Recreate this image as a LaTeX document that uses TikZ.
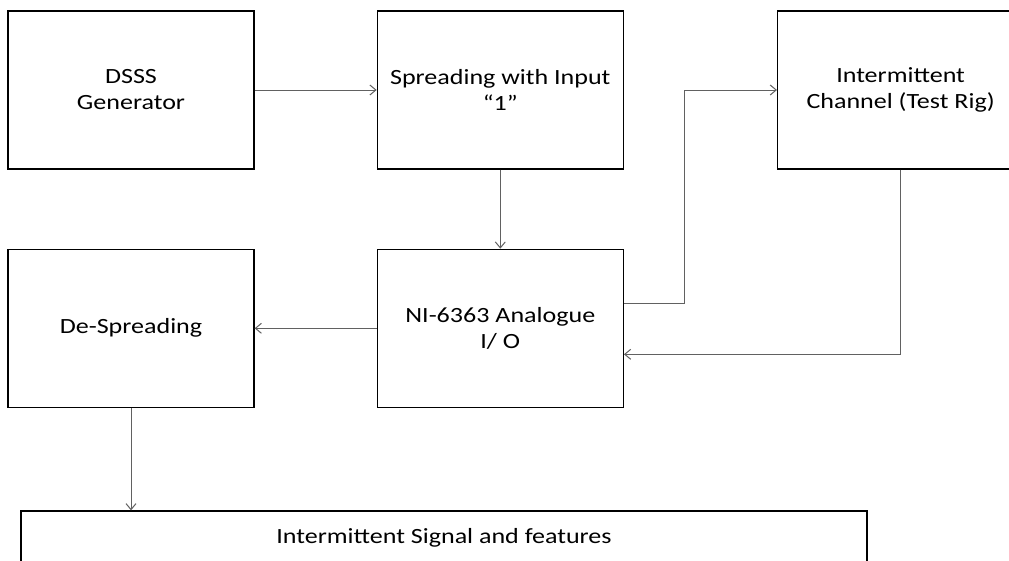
\documentclass[tikz,border=0pt]{standalone}
\usepackage{fontspec}
\setmainfont{Carlito}[FakeStretch=1.2]
\usepackage{tikz}
\usetikzlibrary{positioning, arrows.meta, calc}
\tikzset{
  stagebox/.style={
    draw=black, line width=1.3pt,
    minimum width=246pt, minimum height=158pt,
    font=\fontsize{21.7}{26}\selectfont, align=center, fill=white
  },
  flow/.style={-{Straight Barb[length=6pt,width=10pt]}, draw=black!62, line width=1pt},
}

\begin{document}
\begin{tikzpicture}
  \clip (0,0) rectangle (1009pt,-560pt);
  \fill[white] (0,0) rectangle (1009pt,-560pt);

  % top row
  \node[stagebox] (dsss) at (131pt,-90pt) {DSSS\\Generator};
  \node[stagebox, right=122pt of dsss] (spread) {Spreading with Input\\``1''};
  \node[stagebox, right=153pt of spread] (channel) {Intermittent\\Channel (Test Rig)};

  % middle row
  \node[stagebox, below=79pt of dsss] (despread) {De-Spreading};
  \node[stagebox, below=79pt of spread] (nio) {NI-6363 Analogue\\I/ O};

  % output
  \node[stagebox, minimum width=846pt, minimum height=54pt] (result) at (444pt,-538pt)
    {Intermittent Signal and features};

  \draw[flow] (dsss.east) -- (spread.west);
  \draw[flow] (spread.south) -- (nio.north);
  \draw[flow] (nio.west) -- (despread.east);
  \draw[flow] ([yshift=25pt]nio.east) -- ++(61pt,0) |- (channel.west);
  \draw[flow] (channel.south) |- ([yshift=-26pt]nio.east);
  \draw[flow] (despread.south) -- (despread.south |- result.north);
\end{tikzpicture}
\end{document}
